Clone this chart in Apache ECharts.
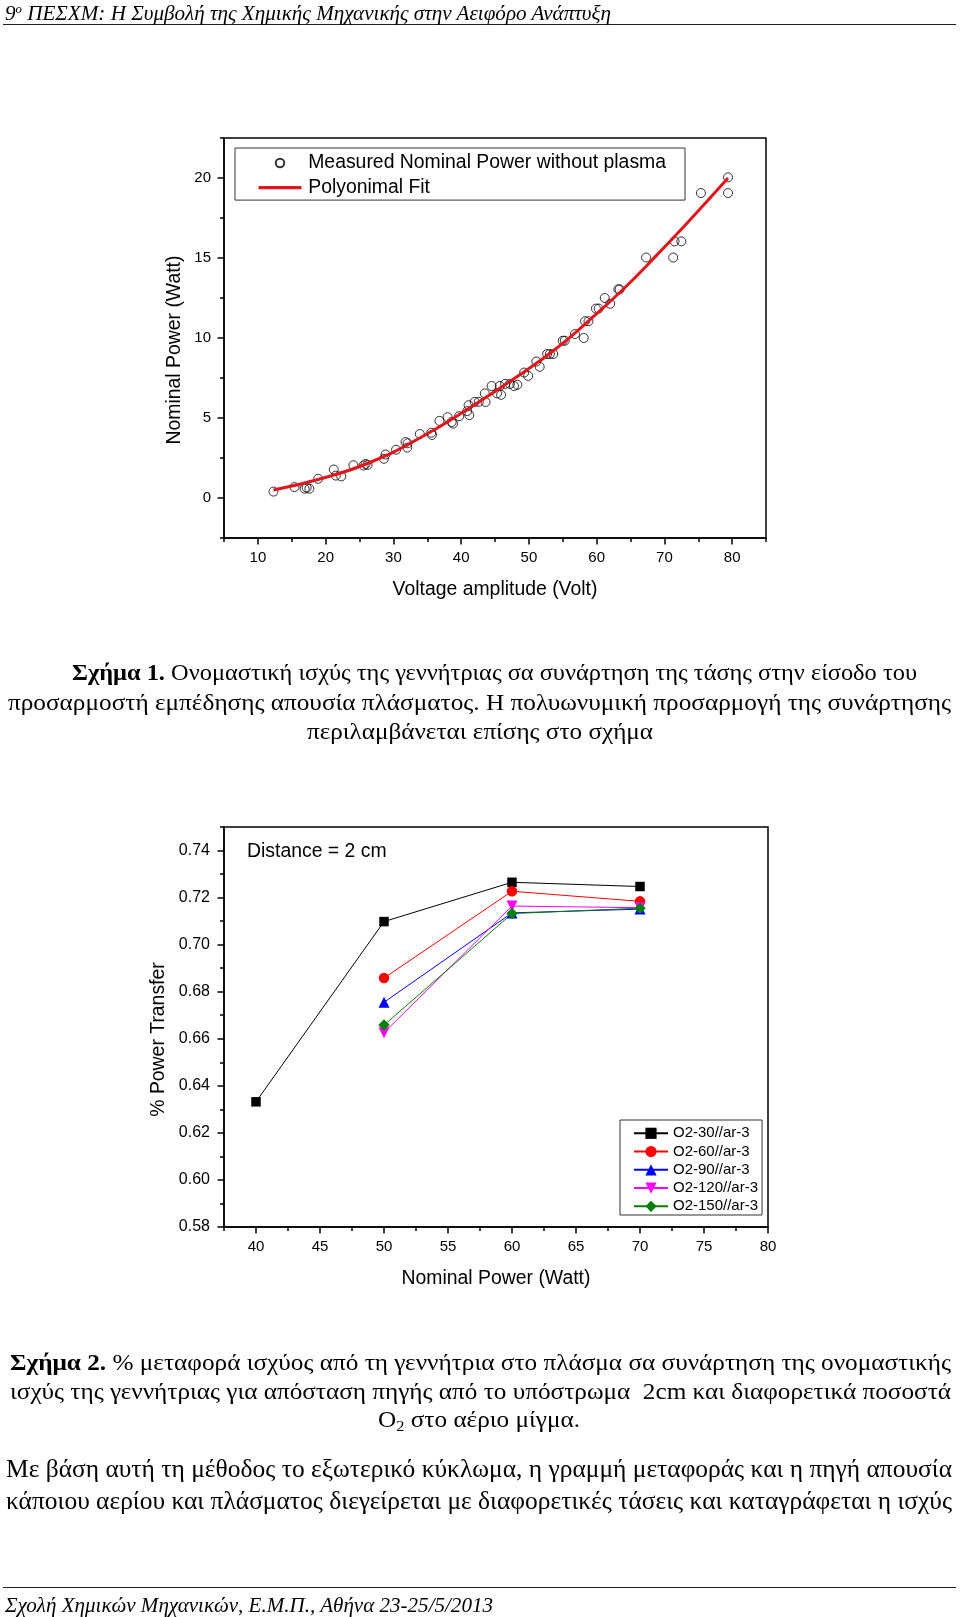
<!DOCTYPE html>
<html>
<head>
<meta charset="utf-8">
<script src="https://cdn.jsdelivr.net/npm/echarts@6.0.0/dist/echarts.min.js"></script>
<style>
html,body{margin:0;padding:0;background:#fff;}
#page{position:relative;width:960px;height:1617px;overflow:hidden;background:#fff;}
#chart{position:absolute;left:0;top:0;width:960px;height:1617px;}
.ln{position:absolute;white-space:nowrap;font-family:'Liberation Serif','Times New Roman',serif;color:#000;transform-origin:0 50%;line-height:1;z-index:2;}
.ln sup{font-size:0.6em;vertical-align:0.55em;line-height:0;}
.ln sub{font-size:0.65em;vertical-align:-0.25em;line-height:0;}
.rule{position:absolute;left:3px;width:953px;height:0;border-top:1.5px solid #222;z-index:2;}
</style>
</head>
<body>
<div id="page">
  <div id="chart"></div>
  <div class="rule" style="top:24px"></div>
  <div class="rule" style="top:1587px"></div>
</div>
<script>
// ---------- DATA ----------
// Figure 1: measured nominal power vs voltage amplitude
const voltage = [12.3,15.4,16.9,17.2,17.6,18.9,21.2,21.5,22.3,24.1,25.6,25.9,26.2,28.6,28.85,30.4,31.8,32.1,32.05,33.9,35.6,35.7,36.8,38.0,38.6,38.8,39.7,40.9,41.1,41.2,42.0,42.6,43.5,43.6,44.5,45.3,45.7,45.9,46.5,47.2,47.8,48.3,49.3,49.9,51.1,51.6,52.7,53.1,53.6,55.0,55.3,56.8,58.1,58.3,58.8,59.9,60.3,61.2,62.0,63.2,63.4,67.3,71.3,71.5,72.5,75.4,79.4,79.4];
const power   = [0.40,0.68,0.58,0.65,0.58,1.2,1.78,1.40,1.35,2.05,2.03,2.13,2.07,2.45,2.72,3.02,3.5,3.42,3.15,4.0,4.08,3.94,4.82,5.05,4.75,4.65,5.11,5.43,5.8,5.18,6.01,6.01,6.54,6.0,7.0,6.54,7.0,6.45,7.13,7.13,7.0,7.08,7.84,7.63,8.53,8.2,9.0,9.0,9.0,9.83,9.83,10.25,10.0,11.05,11.05,11.84,11.84,12.5,12.14,13.04,13.04,15.03,15.03,16.04,16.04,19.06,20.04,19.06];
// Polynomial fit curve
const fitVoltage = [12.3,19.3,26.7,34.1,41.5,49.0,53.9,58.9,63.8,68.7,73.6,79.4];
const fitPower   = [0.5,1.2,2.25,3.8,5.7,7.8,9.3,11.1,13.0,15.1,17.3,20.0];
const fig1XTicks = [10,20,30,40,50,60,70,80];
const fig1YTicks = [0,5,10,15,20];

// Figure 2: % power transfer vs nominal power
const nominalPower = [40,50,60,70];
const o2_30  = [0.6332,0.7098,0.7265,0.7247];
const o2_60  = [null,0.6858,0.7227,0.7184];
const o2_90  = [null,0.6755,0.7135,0.7151];
const o2_120 = [null,0.6626,0.7164,0.7157];
const o2_150 = [null,0.6658,0.7132,0.7155];
const fig2XTicks = [40,45,50,55,60,65,70,75,80];
const fig2YTicks = [0.58,0.60,0.62,0.64,0.66,0.68,0.70,0.72,0.74];

// ---------- CHART ----------
const FONT = "'Liberation Sans', Arial, Helvetica, sans-serif";
function zip(xs, ys){ const o=[]; for(let i=0;i<xs.length;i++){ if(ys[i]!=null) o.push([xs[i],ys[i]]); } return o; }

const tickStyle = {color:'#000', width:1.5};
function mainAxis(grid, min, max, interval, ticks, name, nameGap, namePad, fmt, labelSize, labelMargin){
  return {
    gridIndex:grid, type:'value', min:min, max:max, interval:interval,
    axisLine:{show:true, onZero:false, lineStyle:{color:'#000', width:1.5}},
    axisTick:{show:true, length:6.5, customValues:ticks, lineStyle:tickStyle},
    axisLabel:{show:true, customValues:ticks, margin:labelMargin, fontSize:labelSize, color:'#000', fontFamily:FONT, formatter:fmt},
    splitLine:{show:false}, minorTick:{show:false},
    name:name, nameLocation:'middle', nameGap:nameGap, nameMoveOverlap:false,
    nameTextStyle:{fontSize:19.4, color:'#000', fontFamily:FONT, padding:namePad}
  };
}
function minorAxis(grid, min, max, interval){
  return {
    gridIndex:grid, type:'value', min:min, max:max, interval:interval,
    axisLine:{show:false, onZero:false},
    axisTick:{show:true, length:4, lineStyle:tickStyle},
    axisLabel:{show:false}, splitLine:{show:false}
  };
}
const fmt2 = v => Number(v).toFixed(2);
const fmt0 = v => String(Math.round(v));

const xAxes = [
  Object.assign(mainAxis(0, 5, 85, 5, fig1XTicks, 'Voltage amplitude (Volt)', 42, 0, fmt0, 15, 12), {position:'bottom'}),
  Object.assign(minorAxis(0, 5, 85, 5), {position:'bottom'}),
  Object.assign(mainAxis(1, 37.5, 80, 2.5, fig2XTicks, 'Nominal Power (Watt)', 42, 0, fmt0, 15, 12), {position:'bottom'}),
  Object.assign(minorAxis(1, 37.5, 80, 2.5), {position:'bottom'})
];
const yAxes = [
  Object.assign(mainAxis(0, -2.5, 22.5, 2.5, fig1YTicks, 'Nominal Power (Watt)', 40, [0,24,0,0], fmt0, 15, 13), {position:'left'}),
  Object.assign(minorAxis(0, -2.5, 22.5, 2.5), {position:'left'}),
  Object.assign(mainAxis(1, 0.58, 0.75, 0.01, fig2YTicks, '% Power Transfer', 56, [0,25,0,0], fmt2, 16, 14), {position:'left'}),
  Object.assign(minorAxis(1, 0.58, 0.75, 0.01), {position:'left'})
];

function fig2Series(name, vals, color, symbol, size){
  return {
    name:name, type:'line', xAxisIndex:2, yAxisIndex:2, data:zip(nominalPower, vals),
    symbol:symbol, symbolSize:size, showSymbol:true,
    lineStyle:{color:color, width:1}, itemStyle:{color:color},
    emphasis:{disabled:true}
  };
}

const option = {
  animation:false,
  textStyle:{fontFamily:FONT},
  grid:[
    {left:224, top:138, width:542, height:400, show:true, borderColor:'#000', borderWidth:1.5, outerBoundsMode:'none', containLabel:false},
    {left:224, top:827, width:544, height:400, show:true, borderColor:'#000', borderWidth:1.5, outerBoundsMode:'none', containLabel:false}
  ],
  xAxis:xAxes,
  yAxis:yAxes,
  legend:[
    {
      data:[{name:'Measured Nominal Power without plasma', icon:'circle'}, {name:'Polyonimal Fit', icon:'path://M0,0H40V3H0Z'}],
      orient:'vertical', left:235, top:148, itemWidth:43, itemHeight:8.5, itemGap:4.6,
      padding:[5,19,2.5,23.5], borderColor:'#333', borderWidth:1, selectedMode:false,
      textStyle:{fontSize:19.4, lineHeight:20, color:'#000', fontFamily:FONT, padding:[0,0,0,1.7]}
    },
    {
      data:['O2-30//ar-3','O2-60//ar-3','O2-90//ar-3','O2-120//ar-3','O2-150//ar-3'],
      orient:'vertical', left:620, top:1120, itemWidth:34, itemHeight:14, itemGap:3.25,
      padding:[5.8,4,1.2,13], borderColor:'#333', borderWidth:1, selectedMode:false,
      textStyle:{fontSize:15, lineHeight:15, color:'#000', fontFamily:FONT}
    }
  ],
  graphic:[
    {type:'text', x:247, y:852, style:{text:'Distance = 2 cm', fontSize:19.4, fontFamily:FONT, fill:'#000', verticalAlign:'middle'}}
  ],
  series:[
    {
      name:'Measured Nominal Power without plasma', type:'scatter', xAxisIndex:0, yAxisIndex:0,
      data:zip(voltage, power), symbol:'circle', symbolSize:9,
      itemStyle:{color:'rgba(0,0,0,0)', borderColor:'#000', borderWidth:1}, emphasis:{disabled:true}, z:2
    },
    {
      name:'Polyonimal Fit', type:'line', xAxisIndex:0, yAxisIndex:0, data:zip(fitVoltage, fitPower),
      smooth:0.5, showSymbol:false, symbol:'none', lineStyle:{color:'#e0161c', width:3}, itemStyle:{color:'#e0161c'},
      emphasis:{disabled:true}, z:3
    },
    fig2Series('O2-30//ar-3', o2_30, '#000000', 'rect', 9.5),
    fig2Series('O2-60//ar-3', o2_60, '#ff0000', 'circle', 10.5),
    fig2Series('O2-90//ar-3', o2_90, '#0000ff', 'triangle', 11),
    fig2Series('O2-120//ar-3', o2_120, '#ff00ff', 'path://M0,0L2,0L1,1.73Z', 11),
    fig2Series('O2-150//ar-3', o2_150, '#008000', 'diamond', 11.5)
  ]
};
const chart = echarts.init(document.getElementById('chart'), null, {renderer:'canvas', width:960, height:1617});
chart.setOption(option);

// ---------- PAGE TEXT ----------
const textLines = [
  {html:'9<sup>ο</sup> ΠΕΣΧΜ: Η Συμβολή της Χημικής Μηχανικής στην Αειφόρο Ανάπτυξη', x:5, w:606, yc:12.5, size:21, italic:true},
  {html:'<b>Σχήμα 1.</b> Ονομαστική ισχύς της γεννήτριας σα συνάρτηση της τάσης στην είσοδο του', x:72, w:845, yc:671, size:24},
  {html:'προσαρμοστή εμπέδησης απουσία πλάσματος. Η πολυωνυμική προσαρμογή της συνάρτησης', x:8, w:943, yc:701, size:24},
  {html:'περιλαμβάνεται επίσης στο σχήμα', x:307, w:346, yc:730, size:24},
  {html:'<b>Σχήμα 2.</b> % μεταφορά ισχύος από τη γεννήτρια στο πλάσμα σα συνάρτηση της ονομαστικής', x:10, w:941, yc:1361, size:24},
  {html:'ισχύς της γεννήτριας για απόσταση πηγής από το υπόστρωμα&nbsp; 2cm και διαφορετικά ποσοστά', x:10, w:941, yc:1390, size:24},
  {html:'O<sub>2</sub> στο αέριο μίγμα.', x:378, w:202, yc:1418, size:24},
  {html:'Με βάση αυτή τη μέθοδος το εξωτερικό κύκλωμα, η γραμμή μεταφοράς και η πηγή απουσία', x:6, w:946, yc:1468, size:24.5},
  {html:'κάποιου αερίου και πλάσματος διεγείρεται με διαφορετικές τάσεις και καταγράφεται η ισχύς', x:6, w:946, yc:1500, size:24.5},
  {html:'Σχολή Χημικών Μηχανικών, Ε.Μ.Π., Αθήνα 23-25/5/2013', x:5, w:488, yc:1605, size:21, italic:true}
];
const page = document.getElementById('page');
textLines.forEach(t => {
  const d = document.createElement('div');
  d.className = 'ln';
  d.innerHTML = t.html;
  d.style.fontSize = t.size + 'px';
  if (t.italic) d.style.fontStyle = 'italic';
  d.style.left = t.x + 'px';
  d.style.top = (t.yc - t.size * 0.46) + 'px';
  page.appendChild(d);
  const nat = d.getBoundingClientRect().width;
  d.style.transform = 'scaleX(' + (t.w / nat) + ')';
});
</script>
</body>
</html>
